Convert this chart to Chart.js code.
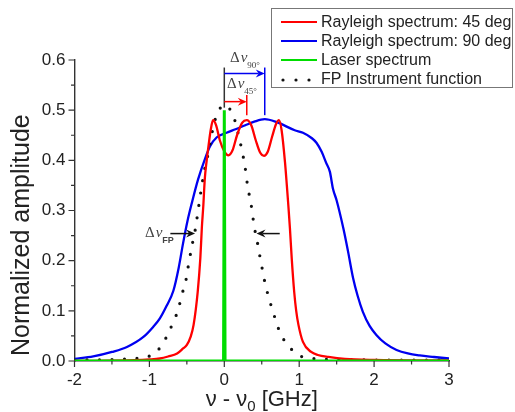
<!DOCTYPE html>
<html>
<head>
<meta charset="utf-8">
<script src="https://cdn.jsdelivr.net/npm/chart.js@4.4.0/dist/chart.umd.min.js"></script>
<style>
  html, body { margin: 0; padding: 0; background: #fff; }
  .chart-container { position: relative; width: 515px; height: 412px; }
</style>
</head>
<body>
<div class="chart-container"><canvas id="spectrumChart" width="515" height="412"></canvas></div>
<script>
// Rayleigh spectrum, 45 deg
const red45X = [-2.0, -1.2, -1.0, -0.86, -0.75, -0.63, -0.55, -0.50, -0.45, -0.41, -0.355, -0.32, -0.30, -0.28, -0.26, -0.235, -0.21, -0.18, -0.15,
  -0.11, -0.06, 0.0, 0.055, 0.11, 0.17, 0.24, 0.30, 0.36, 0.42, 0.48, 0.53, 0.58, 0.64, 0.69, 0.73, 0.765, 0.81, 0.835, 0.855, 0.876,
  0.90, 0.933, 0.96, 0.99, 1.05, 1.16, 1.25, 1.39, 1.61, 2.0, 3.0];
const red45Y = [0.0, 0.0015, 0.003, 0.005, 0.009, 0.015, 0.025, 0.032, 0.048, 0.072, 0.138, 0.205, 0.265, 0.31, 0.364, 0.40, 0.43, 0.462, 0.48,
  0.47, 0.44, 0.418, 0.41, 0.42, 0.45, 0.475, 0.48, 0.47, 0.44, 0.415, 0.409, 0.417, 0.448, 0.472, 0.48, 0.46, 0.397, 0.35, 0.31, 0.265,
  0.205, 0.138, 0.10, 0.072, 0.038, 0.018, 0.012, 0.008, 0.004, 0.002, 0.001];

// Rayleigh spectrum, 90 deg
const blue90X = [-2.0, -1.75, -1.5, -1.3, -1.08, -0.95, -0.86, -0.77, -0.68, -0.61, -0.55, -0.49, -0.43, -0.35, -0.26, -0.19, -0.10, 0.03, 0.15,
  0.28, 0.40, 0.54, 0.70, 0.94, 1.05, 1.17, 1.23, 1.30, 1.36, 1.41, 1.45, 1.50, 1.59, 1.65, 1.72, 1.78, 1.85, 1.94, 2.03, 2.15, 2.30,
  2.45, 2.61, 2.8, 3.0];
const blue90Y = [0.004, 0.009, 0.018, 0.028, 0.048, 0.068, 0.085, 0.11, 0.14, 0.185, 0.235, 0.28, 0.317, 0.362, 0.402, 0.428, 0.446, 0.455, 0.462,
  0.47, 0.477, 0.482, 0.476, 0.46, 0.455, 0.444, 0.435, 0.417, 0.395, 0.377, 0.344, 0.32, 0.264, 0.22, 0.165, 0.13, 0.098, 0.07, 0.052, 0.035, 0.022,
  0.015, 0.011, 0.008, 0.005];

// Laser spectrum
const laserX = [-2.0, -0.01, 0.0, 0.01, 3.0];
const laserY = [0.0, 0.0, 0.5, 0.0, 0.0];

// FP instrument function
const fpX = [-2.0, -1.5, -1.2, -0.97, -0.83, -0.75, -0.68, -0.61, -0.57, -0.52, -0.48, -0.43, -0.39, -0.34, -0.30, -0.26, -0.21, -0.17, -0.125,
  -0.06, 0.02, 0.09, 0.14, 0.19, 0.23, 0.28, 0.31, 0.36, 0.40, 0.445, 0.476, 0.51, 0.54, 0.585, 0.63, 0.685, 0.74, 0.83, 0.99, 1.17, 1.5, 2.0, 3.0];
const fpY = [0.002, 0.003, 0.005, 0.012, 0.032, 0.055, 0.078, 0.105, 0.131, 0.155, 0.19, 0.231, 0.26, 0.31, 0.35, 0.384, 0.417, 0.45, 0.48,
  0.503, 0.51, 0.498, 0.48, 0.45, 0.424, 0.384, 0.35, 0.31, 0.268, 0.234, 0.208, 0.181, 0.158, 0.131, 0.108, 0.082, 0.058, 0.035, 0.012, 0.005, 0.003, 0.002, 0.002];

const legendLabels = ["Rayleigh spectrum: 45 deg", "Rayleigh spectrum: 90 deg", "Laser spectrum", "FP Instrument function"];
const xTickValues = [-2, -1, 0, 1, 2, 3];
const yTickValues = [0.0, 0.1, 0.2, 0.3, 0.4, 0.5, 0.6];
const yTitle = 'Normalized amplitude';

// annotation positions (data units)
const dnu90 = 0.54;
const dnu45 = 0.30;
const fpHalf = 0.254;
const fpLeft = -0.39, fpRight = 0.43;

const RED = '#f00', BLUE = '#0000f0', GREEN = '#00dd00';
const SANS = "'Liberation Sans', Arial, sans-serif";
const SERIF = "'Liberation Serif', 'DejaVu Serif', serif";

function toPoints(xs, ys) {
  return xs.map((x, i) => ({x: x, y: ys[i]}));
}

function arrow(ctx, x1, y, x2, color) {
  const dir = x2 > x1 ? 1 : -1;
  ctx.strokeStyle = color;
  ctx.fillStyle = color;
  ctx.lineWidth = 1.5;
  ctx.beginPath();
  ctx.moveTo(x1, y);
  ctx.lineTo(x2 - dir * 6, y);
  ctx.stroke();
  ctx.beginPath();
  ctx.moveTo(x2, y);
  ctx.lineTo(x2 - dir * 9, y - 4);
  ctx.lineTo(x2 - dir * 6, y);
  ctx.lineTo(x2 - dir * 9, y + 4);
  ctx.closePath();
  ctx.fill();
}

function vline(ctx, x, y1, y2, color) {
  ctx.strokeStyle = color;
  ctx.lineWidth = 1.5;
  ctx.beginPath();
  ctx.moveTo(x, y1);
  ctx.lineTo(x, y2);
  ctx.stroke();
}

function deltaNu(ctx, x, y, sub, subFont) {
  ctx.fillStyle = '#444';
  ctx.textAlign = 'left';
  ctx.textBaseline = 'alphabetic';
  ctx.font = '15px ' + SERIF;
  ctx.fillText('Δ', x, y);
  const w = ctx.measureText('Δ').width;
  ctx.font = 'italic 15px ' + SERIF;
  ctx.fillText('ν', x + w + 1, y);
  const w2 = ctx.measureText('ν').width;
  ctx.font = subFont;
  ctx.fillText(sub, x + w + w2 + 1, y + 6);
}

const annotate = {
  id: 'annotate',
  afterDraw(chart) {
    const ctx = chart.ctx;
    const xs = chart.scales.x, ys = chart.scales.y;
    const px = v => xs.getPixelForValue(v);
    const py = v => ys.getPixelForValue(v);
    const area = chart.chartArea;
    ctx.save();

    // tick marks, major + minor, outward
    ctx.strokeStyle = '#333';
    ctx.lineWidth = 1.2;
    ctx.beginPath();
    yTickValues.forEach((v, i) => {
      ctx.moveTo(area.left - 6, py(v)); ctx.lineTo(area.left, py(v));
      if (i < yTickValues.length - 1) {
        const m = py((v + yTickValues[i + 1]) / 2);
        ctx.moveTo(area.left - 3.5, m); ctx.lineTo(area.left, m);
      }
    });
    xTickValues.forEach((v, i) => {
      ctx.moveTo(px(v), area.bottom); ctx.lineTo(px(v), area.bottom + 6);
      if (i < xTickValues.length - 1) {
        const m = px((v + xTickValues[i + 1]) / 2);
        ctx.moveTo(m, area.bottom); ctx.lineTo(m, area.bottom + 3.5);
      }
    });
    ctx.stroke();

    // delta nu 90 / 45 markers
    vline(ctx, px(0), py(0.585), py(0.505), '#333');
    vline(ctx, px(dnu90), py(0.585), py(0.49), BLUE);
    arrow(ctx, px(0), py(0.573), px(dnu90), BLUE);
    vline(ctx, px(dnu45), py(0.53), py(0.49), RED);
    arrow(ctx, px(0), py(0.517), px(dnu45), RED);
    deltaNu(ctx, 230, 62, '90°', '9px ' + SERIF);
    deltaNu(ctx, 227, 88, '45°', '9px ' + SERIF);

    // FP width arrows
    arrow(ctx, px(-0.72), py(fpHalf), px(fpLeft), '#111');
    arrow(ctx, px(0.74), py(fpHalf), px(fpRight), '#111');
    deltaNu(ctx, 145, 237, 'FP', 'bold 9px ' + SANS);

    // y axis title
    ctx.save();
    ctx.fillStyle = '#222';
    ctx.font = '25px ' + SANS;
    ctx.translate(22, 356);
    ctx.rotate(-Math.PI / 2);
    ctx.textAlign = 'left';
    ctx.textBaseline = 'middle';
    ctx.fillText(yTitle, 0, 0);
    ctx.restore();

    // x axis title with subscript
    ctx.fillStyle = '#222';
    ctx.textAlign = 'left';
    ctx.textBaseline = 'alphabetic';
    ctx.font = '22px ' + SANS;
    const a = 'ν - ν', b = '0', c = ' [GHz]';
    const wa = ctx.measureText(a).width, wc = ctx.measureText(c).width;
    ctx.font = '15px ' + SANS;
    const wb = ctx.measureText(b).width;
    let x0 = (area.left + area.right) / 2 - (wa + wb + wc) / 2;
    ctx.font = '22px ' + SANS;
    ctx.fillText(a, x0, 406);
    ctx.font = '15px ' + SANS;
    ctx.fillText(b, x0 + wa, 411);
    ctx.font = '22px ' + SANS;
    ctx.fillText(c, x0 + wa + wb, 406);

    // legend box
    const lx = 271, ly = 8, lw = 242, lh = 80;
    ctx.fillStyle = '#fff';
    ctx.fillRect(lx, ly, lw, lh);
    ctx.strokeStyle = '#777';
    ctx.lineWidth = 1;
    ctx.strokeRect(lx + 0.5, ly + 0.5, lw - 1, lh - 1);
    const colors = [RED, BLUE, GREEN, '#111'];
    legendLabels.forEach((txt, i) => {
      const yy = 22 + i * 19;
      if (i < 3) {
        ctx.strokeStyle = colors[i];
        ctx.lineWidth = 2.2;
        ctx.beginPath(); ctx.moveTo(281, yy); ctx.lineTo(317, yy); ctx.stroke();
      } else {
        ctx.fillStyle = '#111';
        [283, 296, 309].forEach(dx => {
          ctx.beginPath(); ctx.arc(dx, yy + 1, 1.6, 0, Math.PI * 2); ctx.fill();
        });
      }
      ctx.fillStyle = '#222';
      ctx.font = '16px ' + SANS;
      ctx.textBaseline = 'middle';
      ctx.fillText(txt, 321, yy + 1);
    });
    ctx.restore();
  }
};

const ctx = document.getElementById('spectrumChart').getContext('2d');
new Chart(ctx, {
  type: 'line',
  data: {
    datasets: [
      {
        label: legendLabels[2], data: toPoints(laserX, laserY), borderColor: GREEN,
        borderWidth: 3, tension: 0, borderJoinStyle: 'bevel', pointRadius: 0, order: 0
      },
      {
        label: legendLabels[0], data: toPoints(red45X, red45Y), borderColor: RED,
        borderWidth: 2.3, cubicInterpolationMode: 'monotone', pointRadius: 0, order: 1
      },
      {
        label: legendLabels[3], data: toPoints(fpX, fpY), borderColor: '#111',
        borderWidth: 3.2, borderDash: [0, 12.5], borderCapStyle: 'round',
        cubicInterpolationMode: 'monotone', pointRadius: 0, order: 2
      },
      {
        label: legendLabels[1], data: toPoints(blue90X, blue90Y), borderColor: BLUE,
        borderWidth: 2.3, cubicInterpolationMode: 'monotone', pointRadius: 0, order: 3
      }
    ]
  },
  options: {
    responsive: false,
    animation: false,
    devicePixelRatio: 1,
    layout: { padding: { left: 0, right: 66, top: 60, bottom: 0 } },
    plugins: { legend: { display: false }, tooltip: { enabled: false } },
    scales: {
      x: {
        type: 'linear', min: -2, max: 3,
        afterBuildTicks: s => { s.ticks = xTickValues.map(v => ({value: v})); },
        afterFit: s => { s.height = 51; },
        grid: { display: false, drawTicks: true, tickLength: 6 },
        border: { display: true, color: '#333', width: 1.4 },
        ticks: { color: '#222', font: { size: 17, family: SANS }, padding: 3, maxRotation: 0,
          callback: v => String(v) }
      },
      y: {
        min: 0, max: 0.6,
        afterBuildTicks: s => { s.ticks = yTickValues.map(v => ({value: v})); },
        afterFit: s => { s.width = 74.5; },
        grid: { display: false, drawTicks: true, tickLength: 6 },
        border: { display: true, color: '#333', width: 1.4 },
        ticks: { color: '#222', font: { size: 17, family: SANS }, padding: 3,
          callback: v => v.toFixed(1) }
      }
    }
  },
  plugins: [annotate]
});
</script>
</body>
</html>
